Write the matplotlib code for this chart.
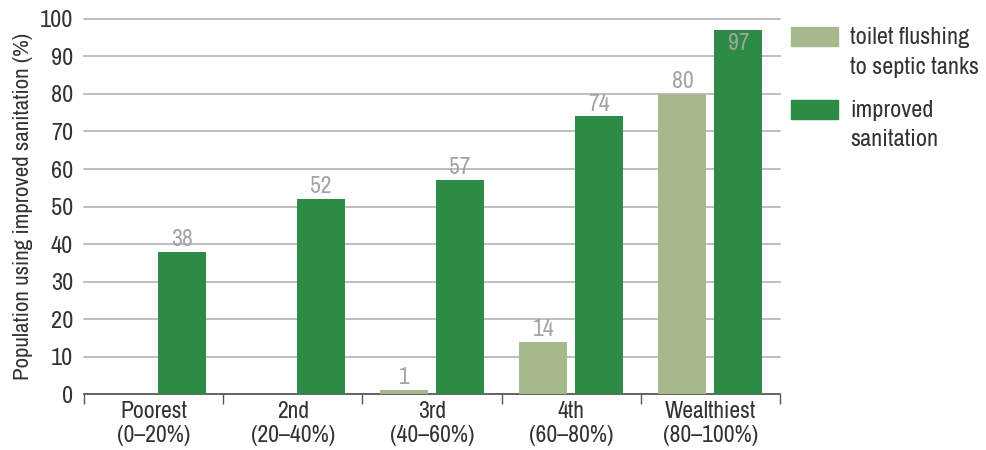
import numpy as np
import matplotlib.pyplot as plt
from matplotlib import font_manager
from matplotlib.patches import Rectangle

# pick a condensed face if one is installed, else a plain sans
names = sorted(set(f.name for f in font_manager.fontManager.ttflist))
cond = [n for n in names if 'Condensed' in n or 'Narrow' in n]
fams = cond[:1] + ['Roboto', 'Liberation Sans', 'DejaVu Sans']
plt.rcParams['font.family'] = fams

# data
groups = ["Poorest\n(0\u201320%)", "2nd\n(20\u201340%)", "3rd\n(40\u201360%)",
          "4th\n(60\u201380%)", "Wealthiest\n(80\u2013100%)"]
septic = [0, 0, 1, 14, 80]
improved = [38, 52, 57, 74, 97]
series_names = ["toilet flushing\nto septic tanks", "improved\nsanitation"]

light = '#a5b98c'
dark = '#2e8b45'
label_col = '#a3a3a3'
text_col = '#333333'

fig = plt.figure(figsize=(9.87, 4.5), dpi=100)
ax = fig.add_axes([0.0851, 0.1244, 0.7052, 0.8334])

x = np.arange(len(groups))
w = 0.345
gap = 0.057
xl = x - (w + gap) / 2
xr = x + (w + gap) / 2

ax.bar(xl, septic, w, color=light, zorder=3)
ax.bar(xr, improved, w, color=dark, zorder=3)

vs = 17
for xi, v in zip(xl, septic):
    if v > 0:
        ax.text(xi, v + 0.5, str(v), ha='center', va='bottom', color=label_col, fontsize=vs, zorder=4)
for xi, v in zip(xr, improved):
    if v > 92:
        ax.text(xi, v - 0.8, str(v), ha='center', va='top', color=label_col, fontsize=vs, zorder=4)
    else:
        ax.text(xi, v + 0.5, str(v), ha='center', va='bottom', color=label_col, fontsize=vs, zorder=4)

ax.set_xlim(-0.5, len(groups) - 0.5)
ax.set_ylim(0, 100)
ax.set_yticks(range(0, 101, 10))
ax.yaxis.grid(True, color='#b3b3b3', linewidth=1.2, zorder=0)
for gl in ax.get_ygridlines():
    gl.set_clip_on(False)
ax.set_axisbelow(True)
ax.tick_params(axis='y', length=0, labelsize=17.5, colors=text_col, pad=8)

ax.set_xticks(x)
ax.set_xticklabels(groups, linespacing=1.15)
ax.tick_params(axis='x', length=0, labelsize=17, colors=text_col, pad=5)
ax.set_xticks(np.arange(len(groups) + 1) - 0.5, minor=True)
ax.tick_params(axis='x', which='minor', length=7, width=1, color='#555555', direction='out')

for s in ['top', 'right', 'left']:
    ax.spines[s].set_visible(False)
ax.spines['bottom'].set_color('#555555')
ax.spines['bottom'].set_linewidth(1.2)

ax.set_ylabel("Population using improved sanitation (%)", fontsize=16.5, color=text_col, labelpad=5)

# legend drawn by hand to the right of the plot
for i, (name, col) in enumerate(zip(series_names, [light, dark])):
    y0 = 1 - (46 + 73 * i) / 450
    fig.patches.append(Rectangle((791 / 987, y0), 47 / 987, 19 / 450, transform=fig.transFigure,
                                 color=col))
    fig.text(850 / 987, 1 - (27 + 73 * i) / 450, name, ha='left', va='top', fontsize=17.5,
             color=text_col, linespacing=1.5)

fig.savefig("out.png", dpi=100)
